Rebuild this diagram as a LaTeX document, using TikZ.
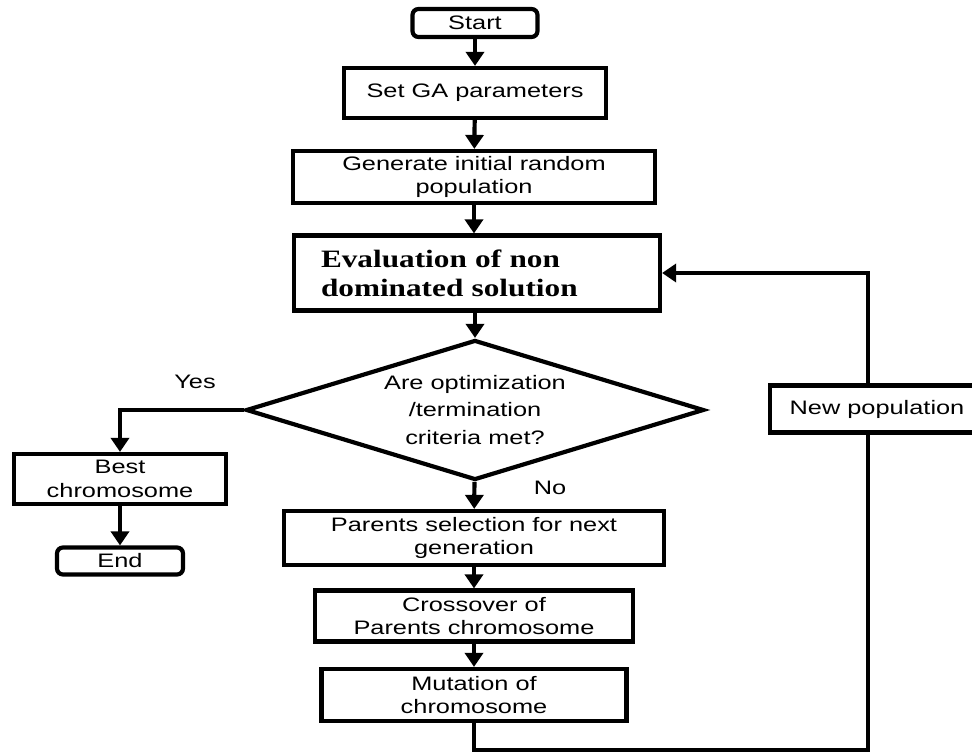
\documentclass[tikz,border=0pt]{standalone}
\usepackage{fontspec}
\setmainfont{Liberation Sans}[FakeStretch=1.3]
\newfontfamily\evalfont{Liberation Serif}[FakeStretch=1.25]
\usetikzlibrary{shapes.geometric, arrows.meta}
\usetikzlibrary{positioning}

\tikzset{
    box/.style={draw, line width=4.2pt, align=center, inner sep=0pt, font=\fontsize{19.5}{23.5}\selectfont},
    terminal/.style={box, rounded corners=6pt},
    decision/.style={draw, diamond, aspect=3.2, line width=4.2pt, align=center, inner sep=0pt, font=\fontsize{19.5}{27.5}\selectfont},
    flow/.style={line width=4.2pt, -{Triangle[length=14pt, width=18pt]}},
    plain/.style={line width=4.2pt},
    tag/.style={font=\fontsize{19.5}{23.5}\selectfont}
}

\begin{document}
\begin{tikzpicture}[x=1pt, y=-1pt]
            \clip (0,0) rectangle (972,754);

            \node[terminal, minimum width=125, minimum height=28] (start) at (475,23) {Start};
            \node[box, minimum width=262, minimum height=50] (setga) at (475,93) {Set GA parameters};
            \node[box, minimum width=362, minimum height=52] (init) at (474,177) {Generate initial random\\population};
            \node[box, minimum width=366, minimum height=75, inner xsep=27pt, text width=312pt, align=left,
                  font=\evalfont\bfseries\fontsize{25}{29}\selectfont] (eval) at (477,273) {Evaluation of non\\dominated solution};
            \node[decision, minimum width=458, minimum height=140] (crit) at (475,410) {Are optimization\\/termination\\criteria met?};
            \node[tag] (yes) at (195,382) {Yes};
            \node[tag] (no) at (550,488) {No};
            \node[box, minimum width=212, minimum height=50] (best) at (120,479) {Best\\chromosome};
            \node[terminal, minimum width=126, minimum height=27] (end) at (120,561) {End};
            \node[box, minimum width=380, minimum height=54] (select) at (474,538) {Parents selection for next\\generation};
            \node[box, minimum width=318, minimum height=51] (cross) at (474,616) {Crossover of\\Parents chromosome};
            \node[box, minimum width=305, minimum height=52] (mutate) at (474,695) {Mutation of\\chromosome};
            \node[box, fill=white, minimum width=214, minimum height=47] (newpop) at (877,409) {New population};
            \coordinate (loopbr) at (868,750);

            \draw[flow] (start) -- (setga);
            \draw[flow] (setga) -- (init);
            \draw[flow] (init) -- (init |- eval.north);
            \draw[flow] (eval.south -| crit) -- (crit);
            \draw[flow] (crit.west) -| (best);
            \draw[flow] (best) -- (end);
            \draw[flow] (crit) -- (select);
            \draw[flow] (select) -- (cross);
            \draw[flow] (cross) -- (mutate);
            \draw[plain] (mutate) |- (loopbr) -- (loopbr |- newpop.south);
            \draw[flow] (loopbr |- newpop.north) |- (eval.east);
        \end{tikzpicture}
\end{document}
